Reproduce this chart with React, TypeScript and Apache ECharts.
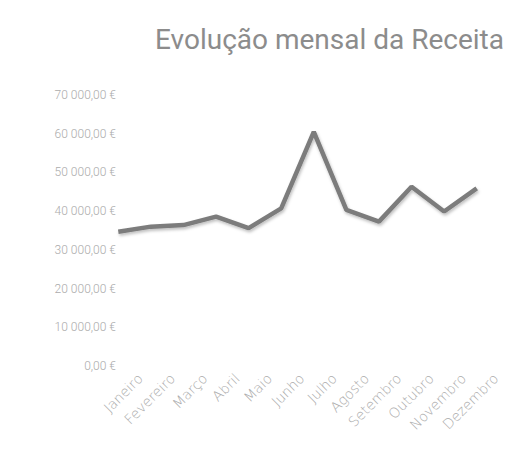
import React, { useEffect, useRef } from "react";
import * as echarts from "echarts";

const months = [
  "Janeiro", "Fevereiro", "Março", "Abril", "Maio", "Junho",
  "Julho", "Agosto", "Setembro", "Outubro", "Novembro", "Dezembro",
];
const receita = [34700, 36000, 36400, 38600, 35600, 40700, 60500, 40300, 37300, 46300, 39900, 45900];
const titleText = "Evolução mensal da Receita";

function fmt(v: number): string {
  const s = Math.round(v).toString().replace(/\B(?=(\d{3})+(?!\d))/g, " ");
  return s + ",00 €";
}

export default function App() {
  const ref = useRef<HTMLDivElement>(null);
  useEffect(() => {
    if (!ref.current) return;
    const chart = echarts.init(ref.current, null, { renderer: "svg" });
    const labelColor = "#ababab";
    chart.setOption({
      animation: false,
      backgroundColor: "#ffffff",
      title: {
        text: titleText,
        right: 3,
        top: 20,
        textStyle: {
          fontFamily: "Roboto",
          fontSize: 28,
          fontWeight: "normal",
          color: "#8c8c8c",
        },
      },
      grid: [
        { left: 102, right: 19, top: 95, bottom: 89, containLabel: false },
        { left: 124, right: -3, top: 95, bottom: 89, containLabel: false },
      ],
      xAxis: [
        {
          type: "category",
          gridIndex: 0,
          data: months,
          boundaryGap: true,
          axisLine: { show: false },
          axisTick: { show: false },
          axisLabel: { show: false },
        },
        {
          type: "category",
          gridIndex: 1,
          data: months,
          boundaryGap: true,
          axisLine: { show: false },
          axisTick: { show: false },
          axisLabel: {
            rotate: 45,
            interval: 0,
            margin: 10,
            fontFamily: "DejaVu Sans",
            fontWeight: 200,
            fontSize: 14,
            color: labelColor,
          },
        },
      ],
      yAxis: [
        {
          type: "value",
          gridIndex: 0,
          min: 0,
          max: 70000,
          interval: 10000,
          splitLine: { show: false },
          axisLine: { show: false },
          axisTick: { show: false },
          axisLabel: {
            formatter: (v: number) => fmt(v),
            margin: -14,
            fontFamily: "Roboto",
            fontWeight: 300,
            fontSize: 12,
            color: labelColor,
          },
        },
        {
          type: "value",
          gridIndex: 1,
          min: 0,
          max: 70000,
          interval: 10000,
          show: false,
        },
      ],
      series: [
        {
          type: "line",
          xAxisIndex: 0,
          yAxisIndex: 0,
          data: receita,
          symbol: "none",
          lineStyle: {
            width: 4.5,
            color: "#7c7c7c",
            shadowColor: "rgba(0,0,0,0.25)",
            shadowBlur: 3,
            shadowOffsetX: 1,
            shadowOffsetY: 2,
          },
        },
      ],
    });
    return () => chart.dispose();
  }, []);
  return (
    <div
      ref={ref}
      style={{ position: "fixed", left: 0, top: 0, width: 512, height: 455 }}
    />
  );
}
